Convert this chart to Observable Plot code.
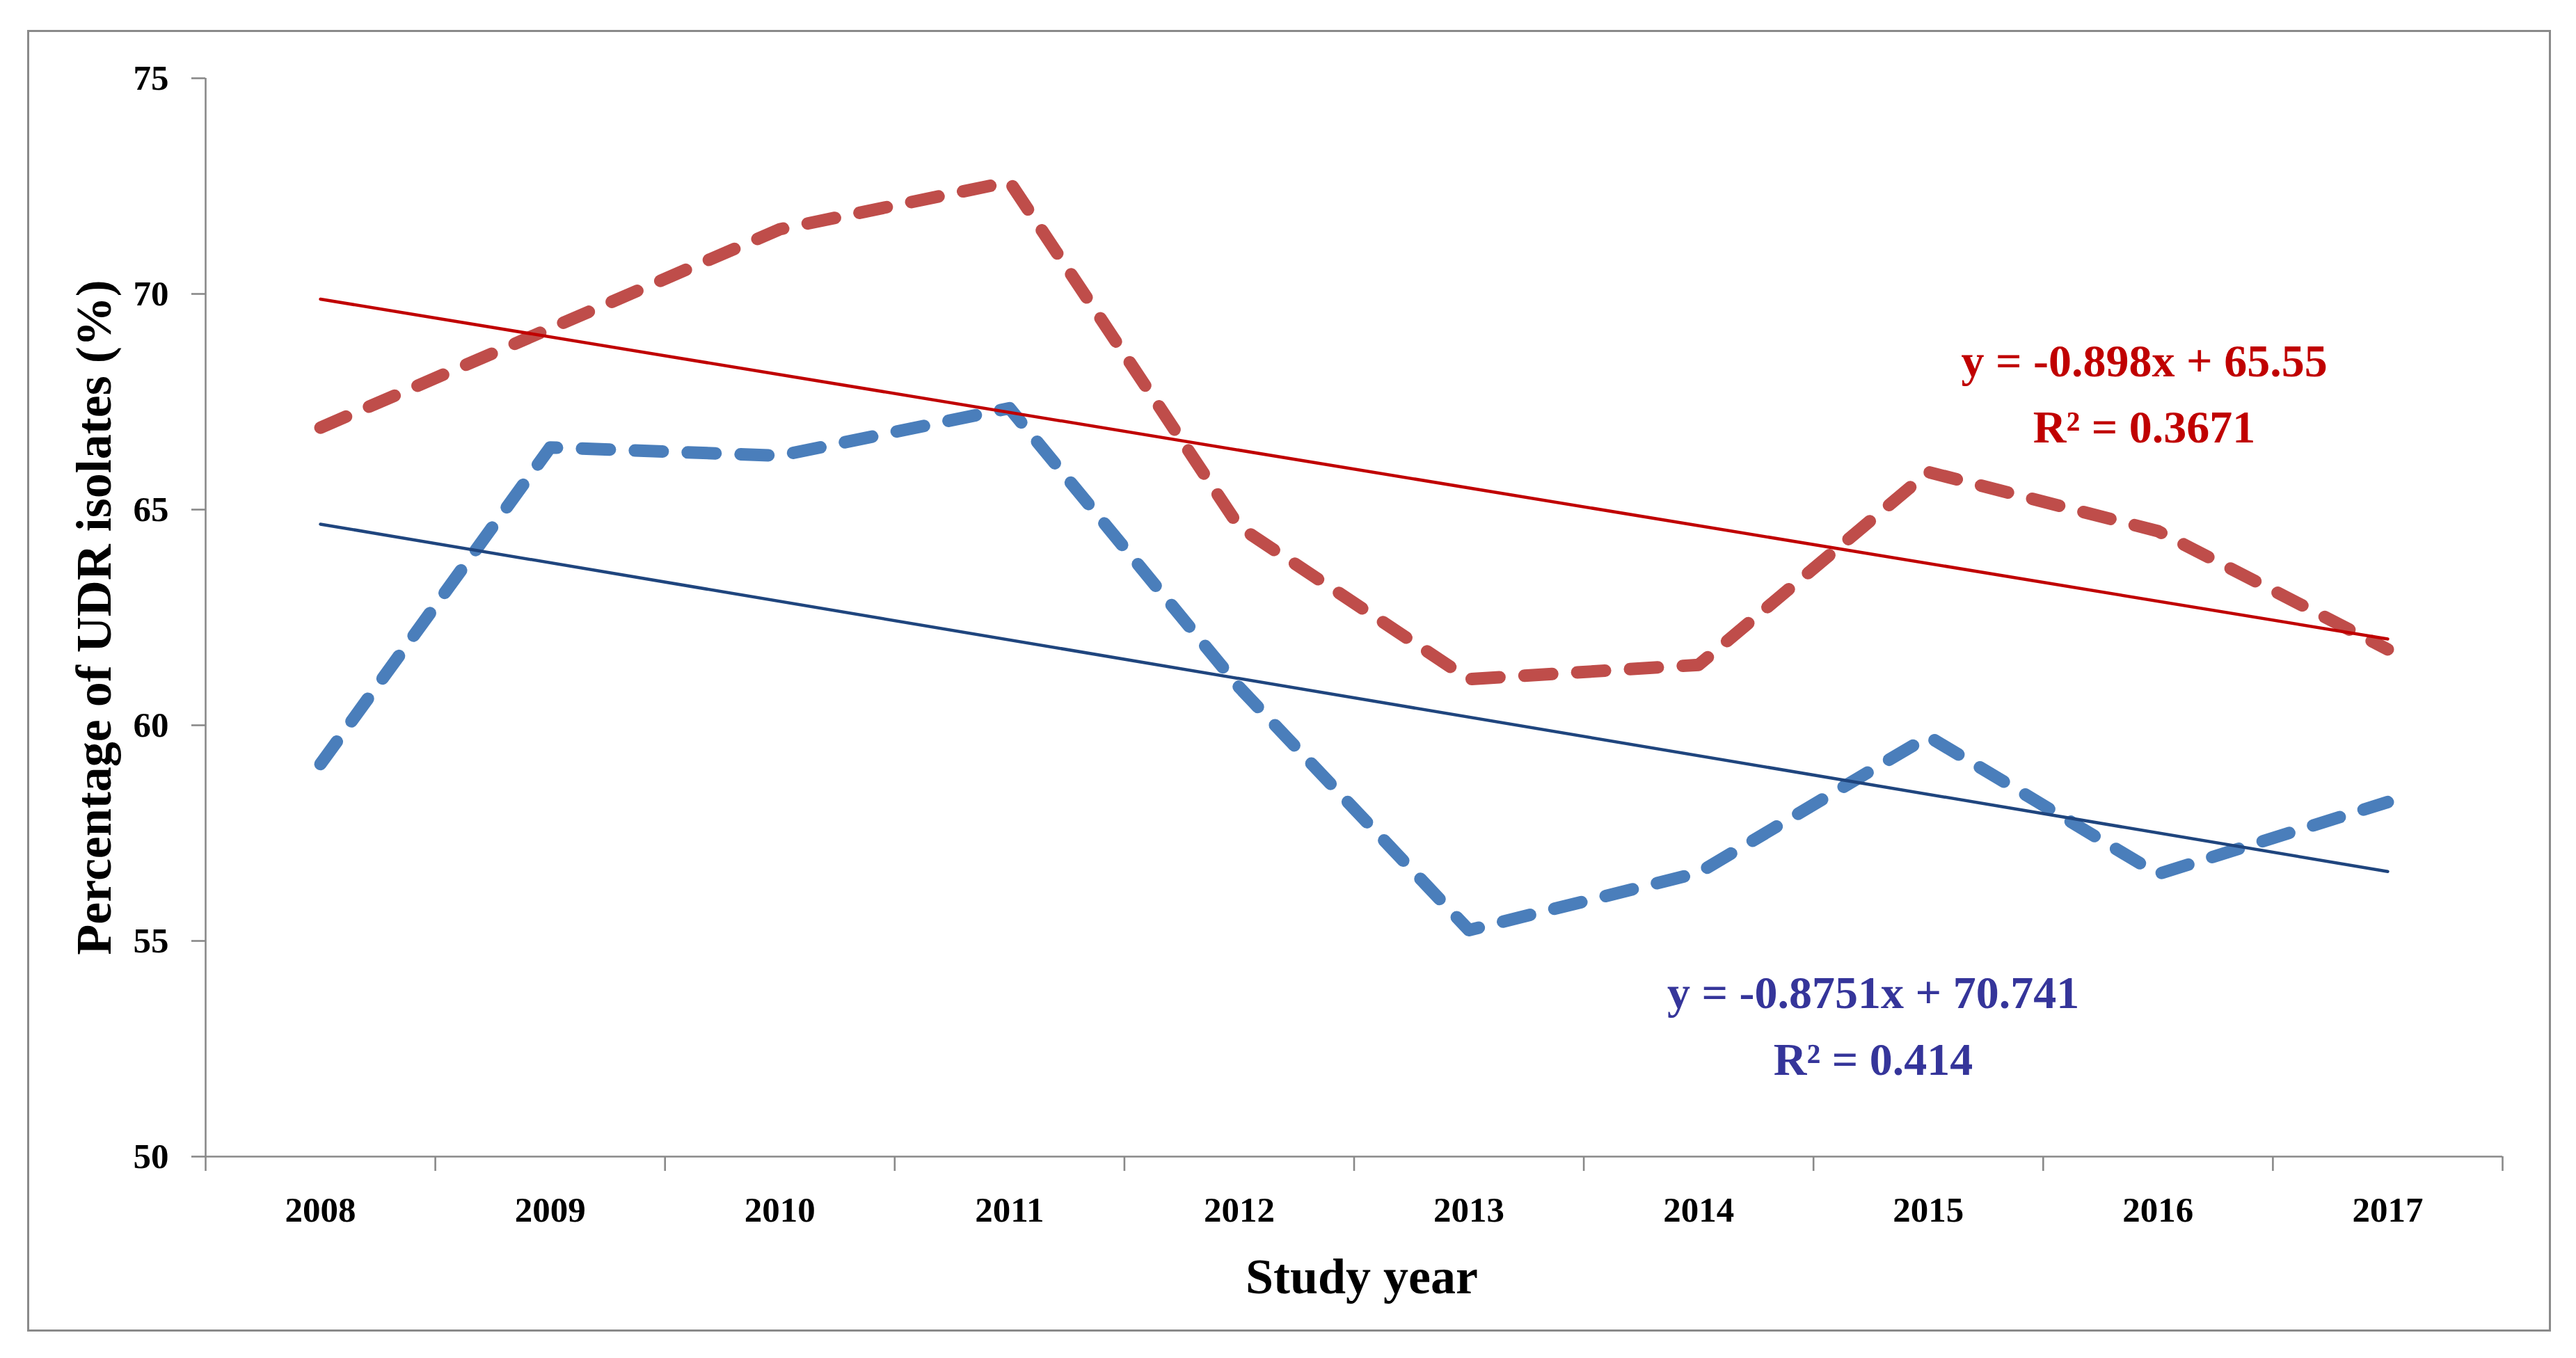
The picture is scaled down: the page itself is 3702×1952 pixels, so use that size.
<!DOCTYPE html>
<html>
<head>
<meta charset="utf-8">
<script src="https://cdn.jsdelivr.net/npm/d3@7"></script>
<script src="https://cdn.jsdelivr.net/npm/@observablehq/plot@0.6"></script>
<style>
  html, body { margin: 0; padding: 0; background: #ffffff; }
  #wrap { position: relative; width: 3702px; height: 1952px; overflow: hidden; }
  #frame { position: absolute; left: 39px; top: 43px; width: 3627px; height: 1871px;
           border: 3px solid #8a8a8a; box-sizing: border-box; pointer-events: none; }
  #wrap svg { display: block; }
</style>
</head>
<body>
<div id="wrap"><div id="frame"></div></div>
<script>
// ---- data ----
const years = [2008, 2009, 2010, 2011, 2012, 2013, 2014, 2015, 2016, 2017];
const redSeries  = [66.9, 69.2, 71.5, 72.6, 64.6, 61.07, 61.4, 65.87, 64.5, 61.76];
const blueSeries = [59.1, 66.44, 66.25, 67.35, 60.88, 55.25, 56.58, 59.74, 56.55, 58.22];
const yTicks = [50, 55, 60, 65, 70, 75];
const xTickLabels = ["2008", "2009", "2010", "2011", "2012", "2013", "2014", "2015", "2016", "2017"];
const xTitle = "Study year";
const yTitle = "Percentage of UDR isolates (%)";
const redEquation = "y = -0.898x + 65.55\nR\u00B2 = 0.3671";
const blueEquation = "y = -0.8751x + 70.741\nR\u00B2 = 0.414";

// ---- tables built from the arrays ----
const redRows = years.map((year, i) => ({year, value: redSeries[i]}));
const blueRows = years.map((year, i) => ({year, value: blueSeries[i]}));
const xDomain = [years[0] - 0.5, years[years.length - 1] + 0.5];
const bounds = years.map(y => y - 0.5).concat([years[years.length - 1] + 0.5]);
const labelOf = new Map(years.map((y, i) => [y, xTickLabels[i]]));
const notes = [
  {text: redEquation, x: 2015.94, y: 67.82, color: "#C00000"},
  {text: blueEquation, x: 2014.76, y: 53.16, color: "#35359A"}
];

const gray = "#898989";

const chart = Plot.plot({
  width: 3702,
  height: 1952,
  marginLeft: 295,
  marginRight: 106,
  marginTop: 112,
  marginBottom: 290,
  x: {type: "linear", domain: xDomain},
  y: {domain: [50, 75]},
  style: {fontFamily: "'Liberation Serif', 'Times New Roman', serif", background: "#ffffff", overflow: "visible", color: "#000000"},
  marks: [
    // axis lines
    Plot.ruleY([yTicks[0]], {stroke: gray, strokeWidth: 2.6}),
    Plot.ruleX([xDomain[0]], {stroke: gray, strokeWidth: 2.6}),
    // y ticks and labels
    Plot.axisY({ticks: yTicks, tickSize: 20, tickFormat: () => "", stroke: gray, strokeWidth: 2.6, label: null}),
    Plot.axisY({ticks: yTicks, tickSize: 0, tickPadding: 53, fontSize: 51, fontWeight: "bold", fill: "#000000", label: null}),
    // x ticks at category boundaries and labels at centres
    Plot.axisX({ticks: bounds, tickSize: 21, tickFormat: () => "", stroke: gray, strokeWidth: 2.6, label: null}),
    Plot.axisX({ticks: years, tickSize: 0, tickPadding: 57, tickFormat: d => labelOf.get(d), fontSize: 51, fontWeight: "bold", fill: "#000000", label: null}),
    // data lines
    Plot.line(redRows, {x: "year", y: "value", stroke: "#BF4D4A", strokeWidth: 18,
      strokeDasharray: "40,36", strokeLinecap: "round", strokeLinejoin: "round"}),
    Plot.line(blueRows, {x: "year", y: "value", stroke: "#4A7EBB", strokeWidth: 18,
      strokeDasharray: "40,36", strokeLinecap: "round", strokeLinejoin: "round"}),
    // linear trend lines
    Plot.linearRegressionY(redRows, {x: "year", y: "value", stroke: "#C00000", strokeWidth: 4.5, ci: 0}),
    Plot.linearRegressionY(blueRows, {x: "year", y: "value", stroke: "#1F457E", strokeWidth: 4.5, ci: 0}),
    // equation labels
    Plot.text(notes, {x: "x", y: "y", text: "text", fill: "color", fontSize: 66, fontWeight: "bold",
      lineHeight: 1.44, textAnchor: "middle", lineAnchor: "middle"}),
    // axis titles
    Plot.text([xTitle], {frameAnchor: "bottom", dy: 173, dx: 11, lineAnchor: "middle", textAnchor: "middle",
      fontSize: 72, fontWeight: "bold", fill: "#000000"}),
    Plot.text([yTitle], {frameAnchor: "left", dx: -160, rotate: -90, lineAnchor: "middle", textAnchor: "middle",
      fontSize: 72, fontWeight: "bold", fill: "#000000"})
  ]
});

document.getElementById("wrap").prepend(chart);
</script>
</body>
</html>
